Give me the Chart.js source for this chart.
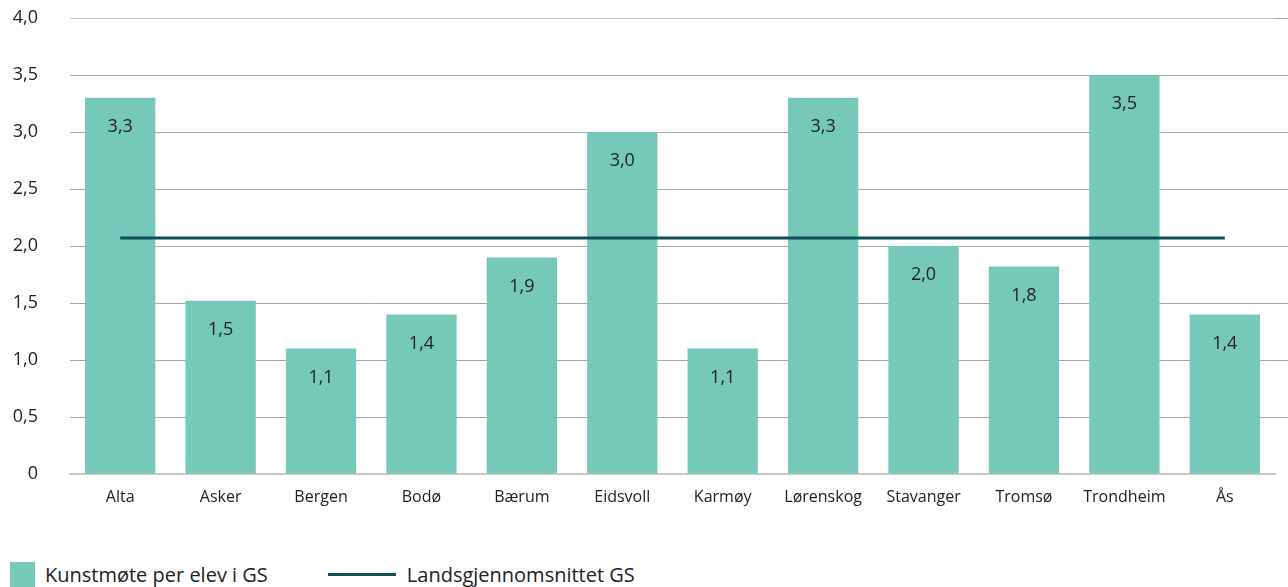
<!DOCTYPE html>
<html>
  <head>
    <title>Kunstmøte per elev</title>
    <script src="https://cdn.jsdelivr.net/npm/chart.js"></script>
    <style>
      body { margin: 0; background: #fff; font-family: "Open Sans", sans-serif; }
      .wrap { position: relative; width: 1288px; height: 587px; }
      .legend { position: absolute; left: 10px; top: 561px; display: flex; align-items: center; color: #222; font-size: 20px; }
      .legend .item { display: flex; align-items: center; }
      .legend .box { width: 25px; height: 25px; margin-right: 10px; }
      .legend .line { width: 68px; height: 3px; margin-right: 11px; }
    </style>
  </head>
  <body>
    <div class="wrap">
      <canvas id="chart" width="1288" height="530"></canvas>
      <div class="legend" id="legend"></div>
    </div>

    <script>
  // data
  const categories = ["Alta", "Asker", "Bergen", "Bodø", "Bærum", "Eidsvoll", "Karmøy", "Lørenskog", "Stavanger", "Tromsø", "Trondheim", "Ås"];
  const perElev = [3.3, 1.52, 1.1, 1.4, 1.9, 3.0, 1.1, 3.3, 2.0, 1.82, 3.5, 1.4];
  const landsgjennomsnitt = 2.07;
  const yTicks = [0, 0.5, 1.0, 1.5, 2.0, 2.5, 3.0, 3.5, 4.0];

  const barColor = '#76c8b8';
  const lineColor = '#0f4f58';

  const fmt = v => v === 0 ? '0' : v.toFixed(1).replace('.', ',');

  // value labels inside the bars
  const barLabels = {
    id: 'barLabels',
    afterDatasetsDraw(chart) {
      const ctx = chart.ctx;
      const meta = chart.getDatasetMeta(1);
      ctx.save();
      ctx.font = '18px "Open Sans", sans-serif';
      ctx.fillStyle = '#222';
      ctx.textAlign = 'center';
      ctx.textBaseline = 'middle';
      meta.data.forEach((bar, i) => {
        ctx.fillText(fmt(perElev[i]), bar.x, bar.y + 29);
      });
      ctx.restore();
    }
  };

  // grid lines run on to the right edge of the picture
  const gridTail = {
    id: 'gridTail',
    beforeDatasetsDraw(chart) {
      const { ctx, chartArea, scales: { y } } = chart;
      ctx.save();
      ctx.strokeStyle = '#a6a6a6';
      ctx.lineWidth = 1;
      y.ticks.forEach(t => {
        if (t.value === 0) return;
        const py = Math.round(y.getPixelForValue(t.value)) + 0.5;
        ctx.beginPath();
        ctx.moveTo(chartArea.right, py);
        ctx.lineTo(chart.width, py);
        ctx.stroke();
      });
      ctx.restore();
    }
  };

  const chart = new Chart(document.getElementById('chart'), {
    data: {
      labels: categories,
      datasets: [
        {
          type: 'line',
          label: 'Landsgjennomsnittet GS',
          data: categories.map(() => landsgjennomsnitt),
          borderColor: lineColor,
          borderWidth: 3,
          pointRadius: 0,
          order: 0
        },
        {
          type: 'bar',
          label: 'Kunstmøte per elev i GS',
          data: perElev,
          backgroundColor: barColor,
          barPercentage: 0.7,
          categoryPercentage: 1.0,
          order: 1
        }
      ]
    },
    options: {
      responsive: false,
      animation: false,
      layout: { padding: { left: 10, top: 18, right: 13, bottom: 0 } },
      plugins: {
        legend: { display: false },
        tooltip: { enabled: false }
      },
      scales: {
        x: {
          grid: { display: false, drawTicks: false },
          border: { color: '#c8c8c8', width: 2 },
          ticks: { color: '#222', font: { family: '"Open Sans", sans-serif', size: 16 }, padding: 14 },
          afterFit: s => { s.height = 56; }
        },
        y: {
          min: 0,
          max: 4,
          afterBuildTicks: s => { s.ticks = yTicks.map(v => ({ value: v })); },
          grid: {
            color: ctx => ctx.tick && ctx.tick.value === 4 ? '#c4c4c4' : '#a6a6a6',
            lineWidth: 1,
            drawTicks: false
          },
          border: { display: false },
          ticks: {
            color: '#222',
            font: { family: '"Open Sans", sans-serif', size: 18 },
            padding: 32,
            callback: v => fmt(v)
          },
          afterFit: s => { s.width = 60; s.paddingTop = 0; s.paddingBottom = 0; }
        }
      }
    },
    plugins: [gridTail, barLabels]
  });

  // legend below the chart
  const legend = document.getElementById('legend');
  [chart.data.datasets[1], chart.data.datasets[0]].forEach((ds, i) => {
    const item = document.createElement('div');
    item.className = 'item';
    if (i === 1) item.style.marginLeft = '60px';
    const mark = document.createElement('span');
    mark.className = ds.type === 'bar' ? 'box' : 'line';
    mark.style.background = ds.type === 'bar' ? ds.backgroundColor : ds.borderColor;
    const txt = document.createElement('span');
    txt.textContent = ds.label;
    item.appendChild(mark);
    item.appendChild(txt);
    legend.appendChild(item);
  });
</script>
  </body>
</html>
